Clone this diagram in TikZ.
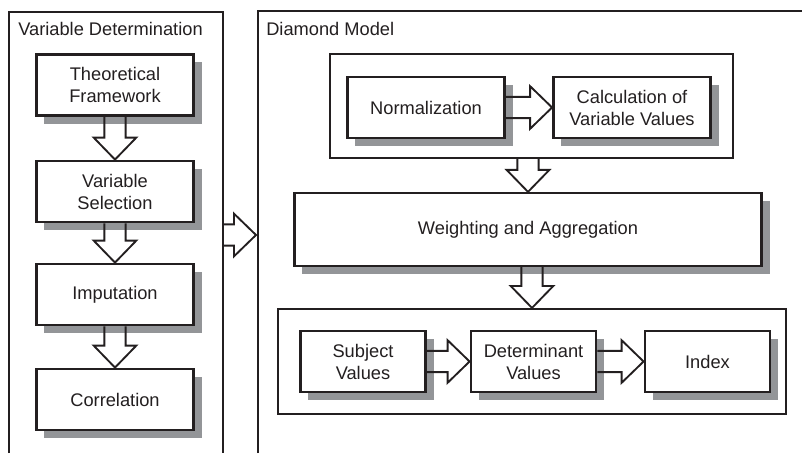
\documentclass[tikz,border=0pt]{standalone}
\usepackage{fontspec}
\setmainfont{Liberation Sans}
\usetikzlibrary{calc,shadows}
\definecolor{shadowgray}{HTML}{939598}
\definecolor{inkgray}{HTML}{231F20}

\begin{document}
\begin{tikzpicture}[x=0.75pt,y=-0.75pt,
    every node/.style={font=\fontsize{13.7}{16.5}\selectfont, text=inkgray},
    stepbox/.style={draw=inkgray, line width=1.9pt, fill=white, align=center,
        inner sep=0pt, minimum width=118pt, minimum height=46pt,
        drop shadow={fill=shadowgray, opacity=1, shadow xshift=6pt, shadow yshift=-6pt}},
    groupbox/.style={draw=inkgray, line width=1.6pt, inner sep=0pt},
    panel/.style={draw=inkgray, line width=1.2pt},
    hollow/.style={draw=inkgray, line width=1.4pt},
    blockdown/.style={to path={let \p1=(\tikztostart), \p2=(\tikztotarget) in
        (\x2-8pt,\y1) -- (\x2-8pt,\y2+16.5pt) -- (\x2-16pt,\y2+16.5pt) -- (\x2,\y2)
        -- (\x2+16pt,\y2+16.5pt) -- (\x2+8pt,\y2+16.5pt) -- (\x2+8pt,\y1)}},
    blockright/.style={to path={let \p1=(\tikztostart), \p2=(\tikztotarget) in
        (\x1,\y1+8pt) -- (\x2-16.5pt,\y1+8pt) -- (\x2-16.5pt,\y1+16pt) -- (\x2,\y1)
        -- (\x2-16.5pt,\y1-16pt) -- (\x2-16.5pt,\y1-8pt) -- (\x1,\y1-8pt)}}]
    \useasboundingbox (0,0) rectangle (802,453);

    % Draw the two panels
    \draw[panel] (9,453) -- (9,12) -- (223,12) -- (223,453);
    \draw[panel] (258,453) -- (258,11) -- (802,11);
    \node[anchor=base west, inner sep=0pt] (vdtitle) at (18,36) {Variable Determination};
    \node[anchor=base west, inner sep=0pt] (dmtitle) at (266,36) {Diamond Model};

    % Variable determination steps
    \node[stepbox] (theory) at (115,85) {Theoretical\\Framework};
    \node[stepbox] (select) at (115,191.5) {Variable\\Selection};
    \node[stepbox] (imput) at (115,294.5) {Imputation};
    \node[stepbox] (correl) at (115,399.5) {Correlation};

    \draw[hollow] (theory.south) to[blockdown] (select.north);
    \draw[hollow] (select.south) to[blockdown] (imput.north);
    \draw[hollow] (imput.south) to[blockdown] (correl.north);

    % Arrow between the panels
    \coordinate (vdedge) at (223,235);
    \coordinate (dmedge) at (256,235);
    \draw[hollow] (vdedge) to[blockright] (dmedge);

    % Diamond model: groups
    \node[groupbox, minimum width=302pt, minimum height=78pt] (normgrp) at (531.5,106) {};
    \node[groupbox, minimum width=381pt, minimum height=78.75pt] (valgrp) at (532,361.5) {};

    % Diamond model: steps
    \node[stepbox] (norm) at (426,107.5) {Normalization};
    \node[stepbox] (calcval) at (632,107.5) {Calculation of\\Variable Values};
    \node[stepbox, minimum width=350.5pt, minimum height=54.5pt] (weight) at (528,229.5) {Weighting and Aggregation};
    \node[stepbox, minimum width=94pt] (subj) at (363,361.5) {Subject\\Values};
    \node[stepbox, minimum width=94pt] (determ) at (533.5,361.5) {Determinant\\Values};
    \node[stepbox, minimum width=94pt] (index) at (707.5,361.5) {Index};

    \draw[hollow] (norm.east) to[blockright] (calcval.west);
    \draw[hollow] (normgrp.south) to[blockdown] (weight.north);
    \draw[hollow] (weight.south) to[blockdown] (valgrp.north);
    \draw[hollow] (subj.east) to[blockright] (determ.west);
    \draw[hollow] (determ.east) to[blockright] (index.west);
\end{tikzpicture}
\end{document}
